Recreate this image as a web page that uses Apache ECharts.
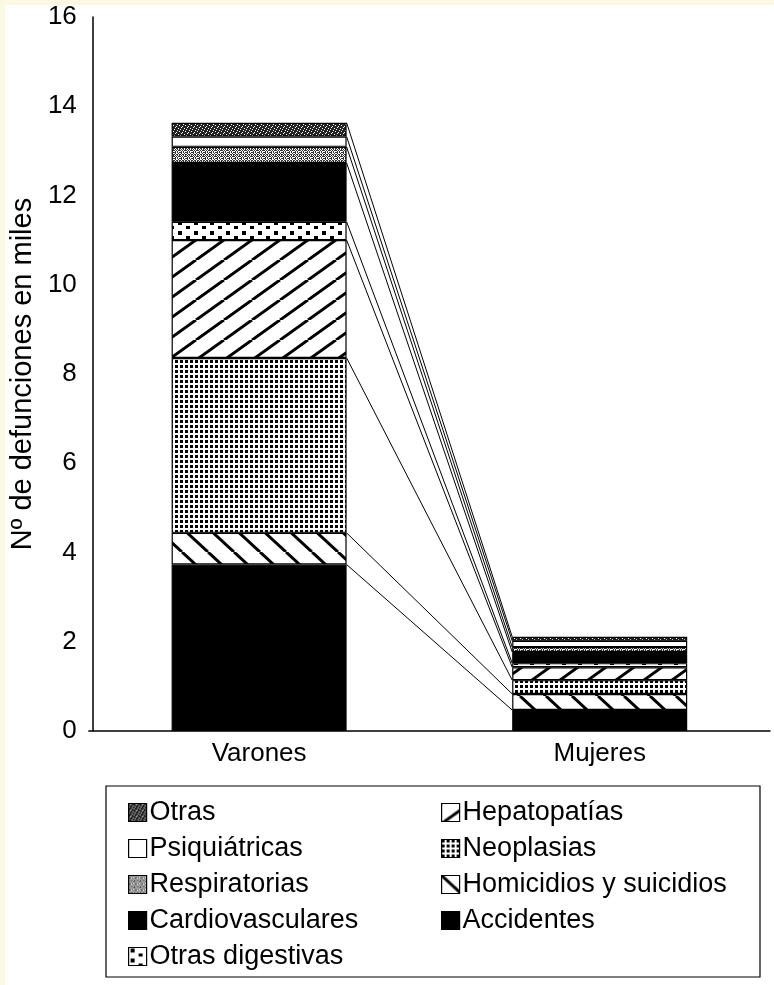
<!DOCTYPE html>
<html>
<head>
<meta charset="utf-8">
<script src="https://cdn.jsdelivr.net/npm/echarts@6/dist/echarts.min.js"></script>
<style>
html,body{margin:0;padding:0;background:#fbf9e2;}
#paper{position:absolute;left:5px;top:5px;width:769px;height:980px;background:#fff;}
#chart{position:absolute;left:0;top:0;width:774px;height:985px;}
</style>
</head>
<body>
<div id="paper"></div>
<div id="chart"></div>
<script>
// ---- data ----
const categories = ['Varones', 'Mujeres'];
const seriesNames = ['Accidentes', 'Homicidios y suicidios', 'Neoplasias', 'Hepatopatías', 'Otras digestivas', 'Cardiovasculares', 'Respiratorias', 'Psiquiátricas', 'Otras'];
const varones = [3.73, 0.71, 3.92, 2.64, 0.41, 1.32, 0.36, 0.23, 0.31];
const mujeres = [0.47, 0.36, 0.31, 0.29, 0.09, 0.25, 0.11, 0.14, 0.09];
const yMin = 0, yMax = 16, yInterval = 2;
const yName = 'Nº de defunciones en miles';
const legendLeft = ['Otras', 'Psiquiátricas', 'Respiratorias', 'Cardiovasculares', 'Otras digestivas'];
const legendRight = ['Hepatopatías', 'Neoplasias', 'Homicidios y suicidios', 'Accidentes'];

// ---- patterns ----
function tile(w, h, draw) {
  const c = document.createElement('canvas');
  c.width = w; c.height = h;
  const ctx = c.getContext('2d');
  ctx.fillStyle = '#fff'; ctx.fillRect(0, 0, w, h);
  draw(ctx, w, h);
  return { image: c, repeat: 'repeat' };
}
function pixels(map, fg) {
  return tile(map[0].length, map.length, (ctx) => {
    ctx.fillStyle = fg;
    map.forEach((row, y) => { for (let x = 0; x < row.length; x++) if (row[x] === '#') ctx.fillRect(x, y, 1, 1); });
  });
}
const patSlash = tile(28, 20, (ctx, w, h) => {
  ctx.strokeStyle = '#000'; ctx.lineWidth = 3;
  for (const o of [-w, 0, w]) { ctx.beginPath(); ctx.moveTo(o, h); ctx.lineTo(o + w, 0); ctx.stroke(); }
});
const patBack = tile(26, 24, (ctx, w, h) => {
  ctx.strokeStyle = '#000'; ctx.lineWidth = 3;
  for (const o of [-w, 0, w]) { ctx.beginPath(); ctx.moveTo(o, 0); ctx.lineTo(o + w, h); ctx.stroke(); }
});
const patGrid = tile(5, 5, (ctx) => { ctx.fillStyle = '#000'; ctx.fillRect(0, 0, 3, 3); });
const patDots = tile(16, 10, (ctx) => { ctx.fillStyle = '#000'; ctx.fillRect(2, 1, 4, 4); ctx.fillRect(10, 6, 4, 3); });
const patDark = pixels([
  '##.###',
  '#.####',
  '####.#',
  '.#####',
  '###.##',
  '#####.'
], '#222');
const patGray = pixels([
  '#.#.##',
  '.#.#..',
  '##.#.#',
  '.#..#.',
  '#.##.#',
  '.#.#.#'
], '#333');

const fills = {
  'Accidentes': '#000',
  'Homicidios y suicidios': patBack,
  'Neoplasias': patGrid,
  'Hepatopatías': patSlash,
  'Otras digestivas': patDots,
  'Cardiovasculares': '#000',
  'Respiratorias': patGray,
  'Psiquiátricas': '#fff',
  'Otras': patDark
};

// cumulative tops for connectors
const cumV = [], cumM = [];
varones.reduce((a, v, i) => (cumV[i] = a + v), 0);
mujeres.reduce((a, v, i) => (cumM[i] = a + v), 0);

const BAR_W = 175;
const font = 'Liberation Sans, Arial, Helvetica, sans-serif';

const series = seriesNames.map((name, i) => ({
  name,
  type: 'bar',
  stack: 'total',
  barWidth: BAR_W,
  data: [varones[i], mujeres[i]],
  itemStyle: { color: fills[name], borderColor: '#000', borderWidth: 1.2 },
  emphasis: { disabled: true },
  animation: false
}));

series.push({
  type: 'custom',
  name: 'links',
  data: seriesNames.map((_, i) => [0, cumV[i], cumM[i]]),
  encode: { x: 0, y: [1, 2] },
  renderItem: function (params, api) {
    const p1 = api.coord([0, api.value(1)]);
    const p2 = api.coord([1, api.value(2)]);
    const half = BAR_W / 2;
    return {
      type: 'line',
      shape: { x1: p1[0] + half, y1: p1[1], x2: p2[0] - half, y2: p2[1] },
      style: { stroke: '#000', lineWidth: 1 }
    };
  },
  silent: true,
  animation: false,
  z: 3
});

const legendCommon = {
  orient: 'vertical',
  padding: 0,
  itemWidth: 18,
  itemHeight: 18,
  itemGap: 9,
  icon: 'rect',
  selectedMode: false,
  textStyle: { fontSize: 27, color: '#000', fontFamily: font, padding: [0, 0, 0, -2] },
  itemStyle: { borderColor: '#000', borderWidth: 1.2 }
};

const chart = echarts.init(document.getElementById('chart'), null, { renderer: 'canvas' });
chart.setOption({
  backgroundColor: 'transparent',
  animation: false,
  grid: { left: 87, right: 4, top: 17, bottom: 254 },
  xAxis: {
    type: 'category',
    data: categories,
    axisLine: { lineStyle: { color: '#000', width: 1.5 } },
    axisTick: { show: false },
    axisLabel: { color: '#000', fontSize: 26, fontFamily: font, margin: 10 }
  },
  yAxis: {
    type: 'value',
    min: yMin, max: yMax, interval: yInterval,
    offset: -4,
    name: yName,
    nameLocation: 'middle',
    nameGap: 50,
    nameTextStyle: { color: '#000', fontSize: 29, fontFamily: font },
    axisLine: { show: true, lineStyle: { color: '#000', width: 1.5 } },
    axisTick: { show: false },
    splitLine: { show: false },
    axisLabel: { color: '#000', fontSize: 26, fontFamily: font, margin: 16 }
  },
  legend: [
    Object.assign({}, legendCommon, { data: legendLeft, left: 128, top: 799 }),
    Object.assign({}, legendCommon, { data: legendRight, left: 441, top: 799 })
  ],
  graphic: [{
    type: 'rect',
    shape: { x: 106, y: 786, width: 654, height: 191 },
    style: { fill: 'none', stroke: '#000', lineWidth: 1.2 },
    silent: true
  }],
  series
});
</script>
</body>
</html>
